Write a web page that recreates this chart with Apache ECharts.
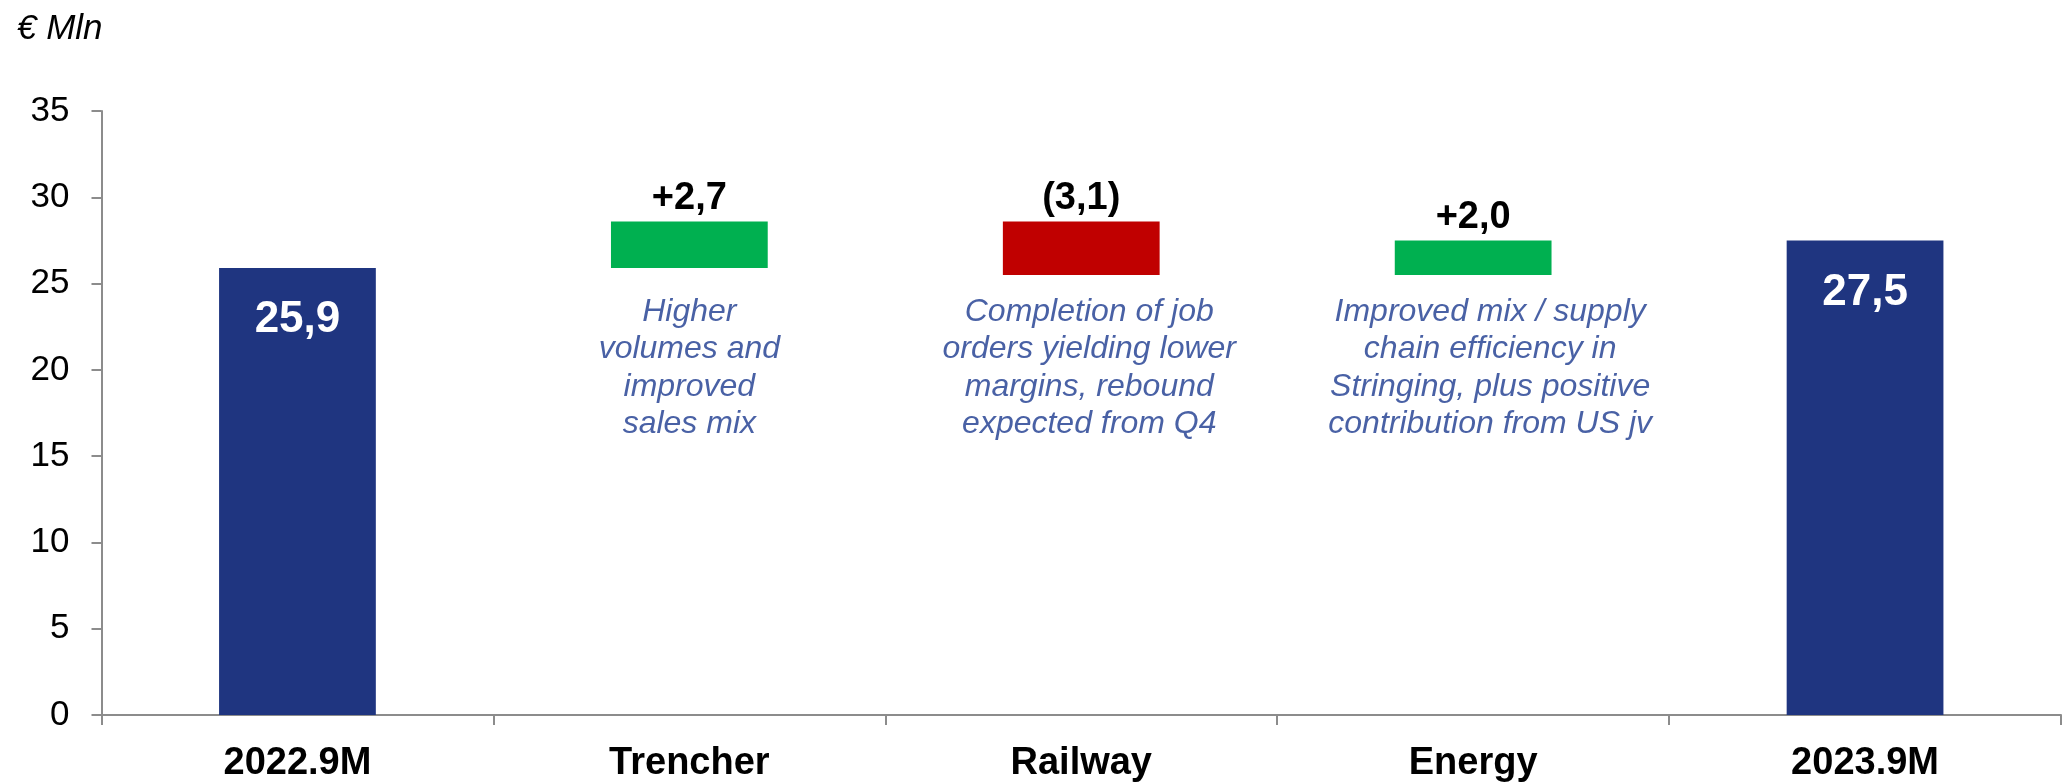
<!DOCTYPE html>
<html>
<head>
<meta charset="utf-8">
<title>EBITDA bridge 2022.9M – 2023.9M</title>
<script src="https://cdn.jsdelivr.net/npm/echarts@6/dist/echarts.min.js"></script>
<style>
  html, body { margin: 0; padding: 0; background: #ffffff; }
  #chart { width: 2066px; height: 783px; }
</style>
</head>
<body>
<div id="chart"></div>
<script>
// Bridge data (€ Mln)
const categories = ['2022.9M', 'Trencher', 'Railway', 'Energy', '2023.9M'];
const startValue = 25.9;
const deltaValues = [2.7, -3.1, 2.0];
const endValue = 27.5;
const notes = [
  'Higher\nvolumes and\nimproved\nsales mix',
  'Completion of job\norders yielding lower\nmargins, rebound\nexpected from Q4',
  'Improved mix / supply\nchain efficiency in\nStringing, plus positive\ncontribution from US jv'
];
const yTicks = [0, 5, 10, 15, 20, 25, 30, 35];

const FONT = "'Liberation Sans', Arial, Helvetica, sans-serif";
const NAVY = '#1f3580';
const GREEN = '#00b050';
const RED = '#c00000';
const NOTE_COLOR = '#1b3a8e';
const AXIS_GREY = '#8c8c8c';
// value at which the comment blocks start (top of text)
const NOTE_TOP = 24.45;
// small horizontal nudges of the comment blocks, in pixels
const NOTE_NUDGE = [0, 8, 17];

const fmt = v => v.toFixed(1).replace('.', ',');
const deltaText = v => (v >= 0 ? '+' + fmt(v) : '(' + fmt(-v) + ')');

// Build the waterfall stacks from the running total
const n = categories.length;
const base = new Array(n).fill('-');
const totals = new Array(n).fill('-');
const ups = new Array(n).fill('-');
const downs = new Array(n).fill('-');
totals[0] = startValue;
totals[n - 1] = endValue;
base[0] = 0;
base[n - 1] = 0;
let running = startValue;
deltaValues.forEach((d, i) => {
  const idx = i + 1;
  if (d >= 0) {
    base[idx] = running;
    ups[idx] = d;
  } else {
    base[idx] = +(running + d).toFixed(2);
    downs[idx] = -d;
  }
  running = +(running + d).toFixed(2);
});

const noteData = notes.map((t, i) => ({
  value: [i + 1, NOTE_TOP],
  label: { offset: [NOTE_NUDGE[i], 0] }
}));

const chart = echarts.init(document.getElementById('chart'), null, { renderer: 'canvas' });

chart.setOption({
  animation: false,
  backgroundColor: '#ffffff',
  textStyle: { fontFamily: FONT },
  title: {
    text: '€ Mln',
    left: 12,
    top: 7,
    textStyle: { fontFamily: FONT, fontSize: 35, fontStyle: 'italic', fontWeight: 'normal', color: '#000' }
  },
  grid: { left: 101.5, right: 5, top: 111, bottom: 67, containLabel: false },
  xAxis: {
    type: 'category',
    data: categories,
    axisLine: { show: true, lineStyle: { color: AXIS_GREY, width: 2 } },
    axisTick: { show: true, length: 10, lineStyle: { color: AXIS_GREY, width: 2 } },
    axisLabel: {
      margin: 30,
      fontFamily: FONT,
      fontSize: 38,
      fontWeight: 'bold',
      color: '#000'
    },
    splitLine: { show: false }
  },
  yAxis: {
    type: 'value',
    min: yTicks[0],
    max: yTicks[yTicks.length - 1],
    interval: yTicks[1] - yTicks[0],
    axisLine: { show: true, lineStyle: { color: AXIS_GREY, width: 2 } },
    axisTick: { show: true, length: 10, lineStyle: { color: AXIS_GREY, width: 2 } },
    axisLabel: { margin: 32, fontFamily: FONT, fontSize: 35, color: '#000' },
    splitLine: { show: false }
  },
  series: [
    {
      name: 'base',
      type: 'bar',
      stack: 'bridge',
      barWidth: '40%',
      silent: true,
      itemStyle: { color: 'transparent' },
      data: base
    },
    {
      name: 'total',
      type: 'bar',
      stack: 'bridge',
      barWidth: '40%',
      itemStyle: { color: NAVY },
      label: {
        show: true,
        position: 'insideTop',
        distance: 30,
        formatter: p => fmt(p.value),
        fontFamily: FONT,
        fontSize: 44,
        fontWeight: 'bold',
        color: '#ffffff'
      },
      data: totals
    },
    {
      name: 'increase',
      type: 'bar',
      stack: 'bridge',
      barWidth: '40%',
      itemStyle: { color: GREEN },
      label: {
        show: true,
        position: 'top',
        distance: 4,
        formatter: p => deltaText(p.value),
        fontFamily: FONT,
        fontSize: 38,
        fontWeight: 'bold',
        color: '#000'
      },
      data: ups
    },
    {
      name: 'decrease',
      type: 'bar',
      stack: 'bridge',
      barWidth: '40%',
      itemStyle: { color: RED },
      label: {
        show: true,
        position: 'top',
        distance: 4,
        formatter: p => deltaText(-p.value),
        fontFamily: FONT,
        fontSize: 38,
        fontWeight: 'bold',
        color: '#000'
      },
      data: downs
    },
    {
      name: 'comments',
      type: 'scatter',
      symbolSize: 0,
      silent: true,
      label: {
        show: true,
        position: 'bottom',
        distance: 0,
        align: 'center',
        formatter: p => notes[p.dataIndex],
        fontFamily: FONT,
        fontSize: 32,
        fontStyle: 'italic',
        lineHeight: 37.5,
        color: NOTE_COLOR
      },
      data: noteData
    }
  ]
});
</script>
</body>
</html>
